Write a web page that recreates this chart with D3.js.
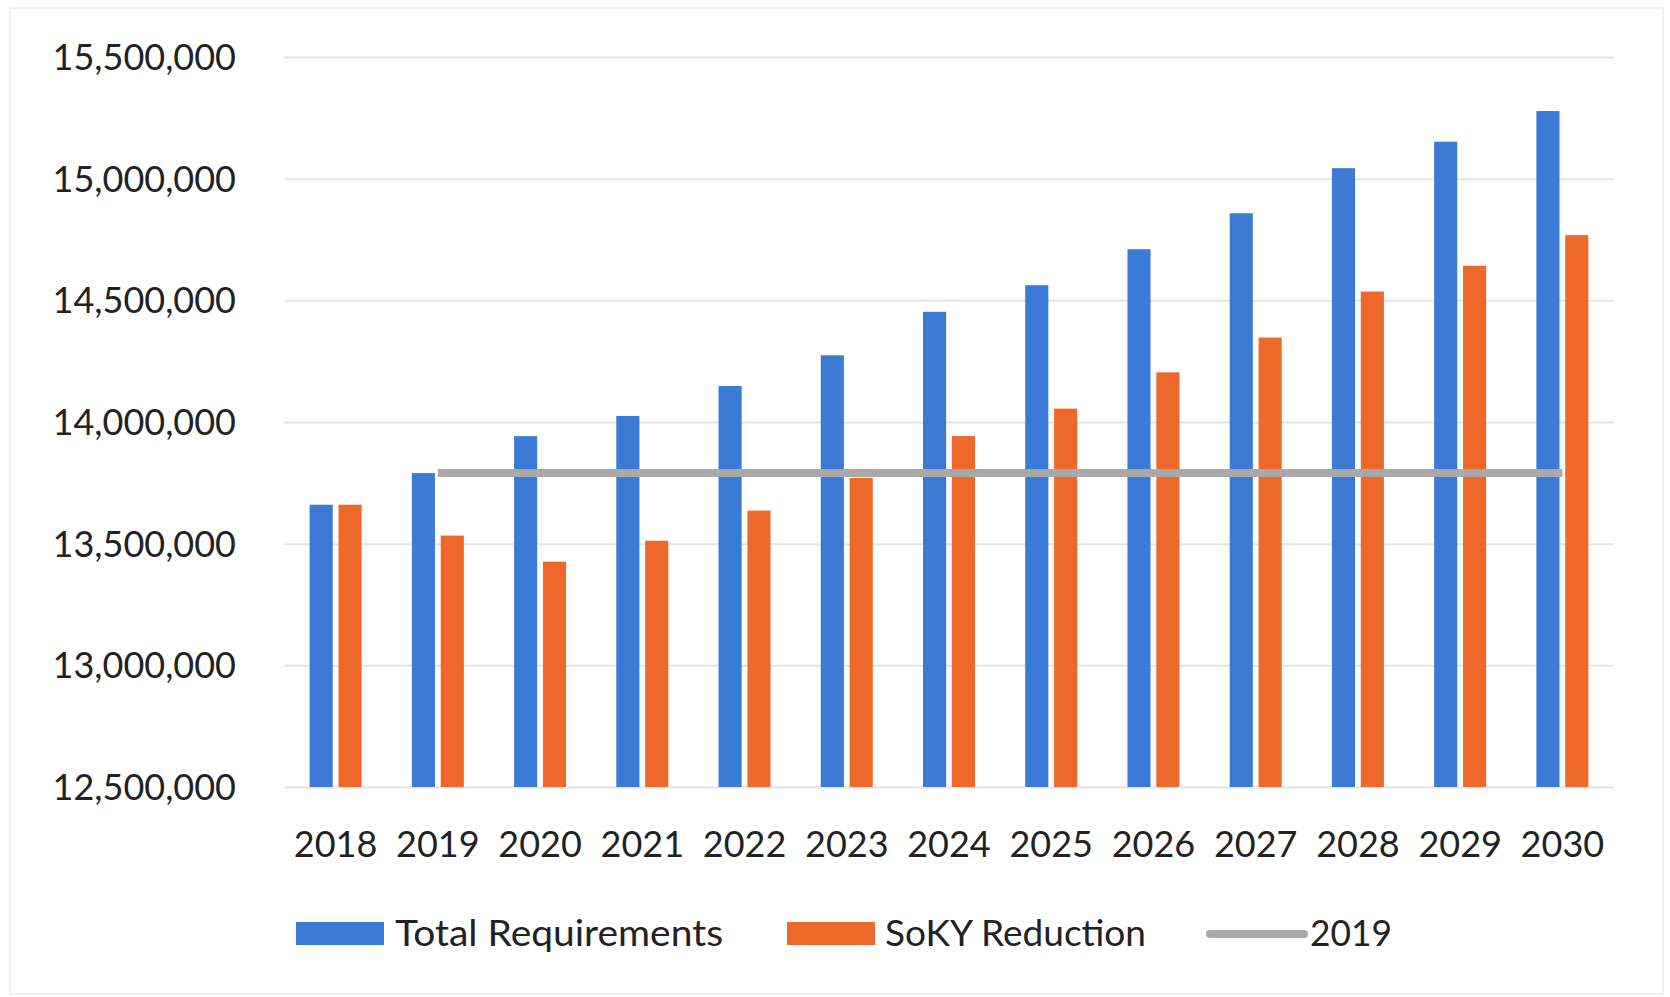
<!DOCTYPE html>
<html>
<head>
<meta charset="utf-8">
<script src="https://cdn.jsdelivr.net/npm/d3@7"></script>
<style>
  html, body { margin: 0; padding: 0; background: #fff; }
  svg { display: block; }
  text { font-family: Lato, "Open Sans", sans-serif; fill: #222; }
</style>
</head>
<body>
<svg id="chart" width="1670" height="997"></svg>
<script>
// Annual energy requirements, 2018–2030
const years = ["2018","2019","2020","2021","2022","2023","2024","2025","2026","2027","2028","2029","2030"];
const totalRequirements = [13660000, 13790000, 13942000, 14025000, 14148000, 14274000, 14453000, 14562000, 14710000, 14858000, 15043000, 15152000, 15278000];
const sokyReduction     = [13660000, 13533000, 13426000, 13512000, 13636000, 13770000, 13942000, 14055000, 14204000, 14347000, 14536000, 14642000, 14768000];
// 2019 reference level, carried forward across later years
const refYears = ["2019","2020","2021","2022","2023","2024","2025","2026","2027","2028","2029","2030"];
const refValues = [13790000, 13790000, 13790000, 13790000, 13790000, 13790000, 13790000, 13790000, 13790000, 13790000, 13790000, 13790000];
const yTicks = [12500000, 13000000, 13500000, 14000000, 14500000, 15000000, 15500000];
const seriesNames = ["Total Requirements", "SoKY Reduction", "2019"];
const colors = { total: "#3b7bd6", soky: "#ee682b", ref: "#a9a9a9" };

const svg = d3.select("#chart");
const W = 1670, H = 997;
const plot = { left: 284.5, right: 1613.5, top: 57, bottom: 787 };

svg.append("rect").attr("x", 0).attr("y", 0).attr("width", W).attr("height", H).attr("fill", "#fff");
// faint chart frame
svg.append("rect").attr("x", 10).attr("y", 8).attr("width", 1653).attr("height", 986)
  .attr("fill", "none").attr("stroke", "#f2f2f2").attr("stroke-width", 2);

const x = d3.scaleBand().domain(years).range([plot.left, plot.right]).padding(0);
const xInner = d3.scaleBand().domain(["total", "soky"]).range([-26, 26]).paddingInner(0.2);
const y = d3.scaleLinear().domain([12500000, 15500000]).range([plot.bottom, plot.top]);

// gridlines + y labels
const yAxis = d3.axisLeft(y).tickValues(yTicks).tickFormat(d3.format(",")).tickSize(0).tickPadding(0);
const gy = svg.append("g").attr("transform", `translate(${plot.left},0)`).call(yAxis);
gy.select(".domain").remove();
gy.selectAll(".tick line")
  .attr("x2", plot.right - plot.left)
  .attr("stroke", "#e4e4e4").attr("stroke-width", 2);
gy.selectAll(".tick text")
  .attr("x", 236 - plot.left)
  .attr("dy", "0.35em")
  .style("font-size", "36px")
  .style("font-family", "Lato, sans-serif")
  .attr("fill", "#222");

// x labels
const xAxis = d3.axisBottom(x).tickSize(0).tickPadding(0);
const gx = svg.append("g").attr("transform", `translate(0,${plot.bottom})`).call(xAxis);
gx.select(".domain").remove();
gx.selectAll(".tick text")
  .attr("y", 70).attr("dy", 0)
  .style("font-size", "36px")
  .style("font-family", "Lato, sans-serif")
  .attr("fill", "#222");

// bars
const groups = svg.append("g").selectAll("g").data(years).join("g")
  .attr("transform", d => `translate(${x(d) + x.bandwidth() / 2},0)`);
groups.append("rect")
  .attr("x", xInner("total")).attr("width", xInner.bandwidth())
  .attr("y", (d, i) => y(totalRequirements[i]))
  .attr("height", (d, i) => plot.bottom - y(totalRequirements[i]))
  .attr("fill", colors.total);
groups.append("rect")
  .attr("x", xInner("soky")).attr("width", xInner.bandwidth())
  .attr("y", (d, i) => y(sokyReduction[i]))
  .attr("height", (d, i) => plot.bottom - y(sokyReduction[i]))
  .attr("fill", colors.soky);

// 2019 reference line
const line = d3.line()
  .x((d, i) => x(refYears[i]) + x.bandwidth() / 2)
  .y(d => y(d));
svg.append("path").datum(refValues)
  .attr("d", line)
  .attr("fill", "none")
  .attr("stroke", colors.ref)
  .attr("stroke-width", 8);

// legend
const legend = svg.append("g");
const legendItems = [
  { name: seriesNames[0], type: "rect", color: colors.total, sx: 296, sw: 88, tx: 395, tw: 328 },
  { name: seriesNames[1], type: "rect", color: colors.soky, sx: 787, sw: 88, tx: 885, tw: 261 },
  { name: seriesNames[2], type: "line", color: colors.ref, sx: 1210, sw: 94, tx: 1310, tw: 82 }
];
legendItems.forEach(it => {
  if (it.type === "rect") {
    legend.append("rect").attr("x", it.sx).attr("y", 922).attr("width", it.sw).attr("height", 23).attr("fill", it.color);
  } else {
    legend.append("line").attr("x1", it.sx).attr("x2", it.sx + it.sw).attr("y1", 934).attr("y2", 934)
      .attr("stroke", it.color).attr("stroke-width", 8).attr("stroke-linecap", "round");
  }
  legend.append("text").attr("x", it.tx).attr("y", 946)
    .style("font-size", "36px").style("font-family", "Lato, sans-serif")
    .attr("textLength", it.tw).attr("lengthAdjust", "spacingAndGlyphs")
    .attr("fill", "#222").text(it.name);
});
</script>
</body>
</html>
